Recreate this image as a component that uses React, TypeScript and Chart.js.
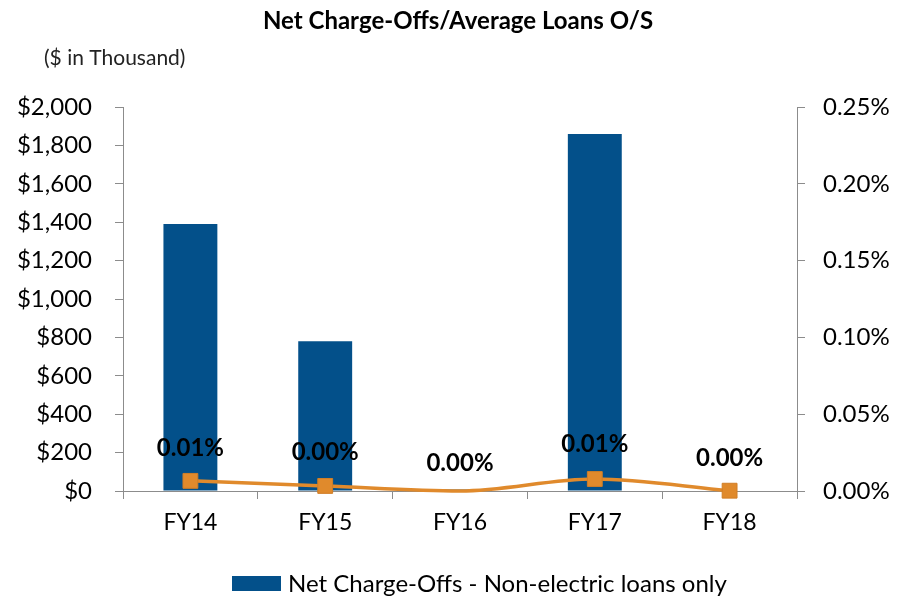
import React, { useEffect, useRef } from "react";
import { Chart, registerables } from "chart.js";

Chart.register(...registerables);

const categories = ["FY14", "FY15", "FY16", "FY17", "FY18"];
const netChargeOffs = [1390, 780, 8, 1860, 0];
const ncoRatio = [0.0066, 0.0033, 0.0, 0.0078, 0.0002];
const ratioLabels = ["0.01%", "0.00%", "0.00%", "0.01%", "0.00%"];
const labelOffsets = [33, 34, 28, 35, 32];
const markerSizes = [10.5, 10.5, 0, 10.5, 10.5];

const TITLE = "Net Charge-Offs/Average Loans O/S";
const SUBTITLE = "($ in Thousand)";
const LEGEND = "Net Charge-Offs - Non-electric loans only";
const FONT = "Lato, 'Open Sans', sans-serif";
const BLUE = "#03508A";
const ORANGE = "#E08A2C";
const AXIS = "#8C8C8C";

const textPlugin = {
  id: "textPlugin",
  afterDraw(chart: any) {
    const ctx = chart.ctx;
    ctx.save();
    ctx.fillStyle = "#000";
    ctx.textBaseline = "middle";
    ctx.textAlign = "center";
    ctx.font = `bold 24px ${FONT}`;
    ctx.fillText(TITLE, 458, 21);
    ctx.textAlign = "left";
    ctx.font = `21px ${FONT}`;
    ctx.fillStyle = "#222";
    ctx.fillText(SUBTITLE, 44, 58);

    // line labels
    const meta = chart.getDatasetMeta(1);
    ctx.font = `bold 24px ${FONT}`;
    ctx.fillStyle = "#000";
    ctx.textAlign = "center";
    meta.data.forEach((pt: any, i: number) => {
      ctx.fillText(ratioLabels[i], pt.x, pt.y - labelOffsets[i]);
    });

    // legend
    ctx.fillStyle = BLUE;
    ctx.fillRect(232, 576, 49, 15);
    ctx.fillStyle = "#000";
    ctx.textAlign = "left";
    ctx.font = `24px ${FONT}`;
    ctx.fillText(LEGEND, 288, 584);
    ctx.restore();
  },
};

export default function App() {
  const ref = useRef<HTMLCanvasElement>(null);
  useEffect(() => {
    const chart = new Chart(ref.current!, {
      type: "bar",
      data: {
        labels: categories,
        datasets: [
          {
            type: "bar",
            label: LEGEND,
            data: netChargeOffs,
            backgroundColor: BLUE,
            barPercentage: 1,
            categoryPercentage: 0.4,
            yAxisID: "y",
            order: 2,
          },
          {
            type: "line",
            label: "NCO ratio",
            data: ncoRatio,
            borderColor: ORANGE,
            backgroundColor: ORANGE,
            borderWidth: 3.5,
            cubicInterpolationMode: "monotone",
            clip: false,
            pointStyle: "rect",
            pointRadius: markerSizes,
            pointBackgroundColor: ORANGE,
            pointBorderColor: "#D17E26",
            pointBorderWidth: 1,
            yAxisID: "y1",
            order: 1,
          } as any,
        ],
      },
      options: {
        responsive: false,
        animation: false,
        layout: { padding: { top: 107, left: 0, right: 0, bottom: 0 } },
        plugins: {
          legend: { display: false },
          title: { display: false },
          tooltip: { enabled: false },
        },
        scales: {
          x: {
            offset: true,
            grid: {
              offset: true,
              drawOnChartArea: false,
              drawTicks: true,
              tickLength: 8,
              color: AXIS,
            },
            border: { display: true, color: AXIS },
            ticks: {
              color: "#000",
              font: { family: FONT, size: 23 },
              padding: 10,
            },
            afterFit(scale: any) {
              scale.height = 109;
            },
          },
          y: {
            position: "left",
            min: 0,
            max: 2000,
            ticks: {
              stepSize: 200,
              color: "#000",
              font: { family: FONT, size: 24 },
              padding: 23,
              callback: (v: any) => "$" + Number(v).toLocaleString("en-US"),
            },
            grid: {
              drawOnChartArea: false,
              drawTicks: true,
              tickLength: 8,
              color: AXIS,
            },
            border: { display: true, color: AXIS },
            afterFit(scale: any) {
              scale.width = 123;
            },
          },
          y1: {
            position: "right",
            min: 0,
            max: 0.25,
            ticks: {
              stepSize: 0.05,
              color: "#000",
              font: { family: FONT, size: 24 },
              padding: 18,
              callback: (v: any) => Number(v).toFixed(2) + "%",
            },
            grid: {
              drawOnChartArea: false,
              drawTicks: true,
              tickLength: 8,
              color: AXIS,
            },
            border: { display: true, color: AXIS },
            afterFit(scale: any) {
              scale.width = 109;
            },
          },
        },
      },
      plugins: [textPlugin],
    });
    return () => chart.destroy();
  }, []);
  return (
    <div style={{ position: "absolute", left: 0, top: 0, width: 906, height: 600, background: "#fff" }}>
      <canvas ref={ref} width={906} height={600} style={{ width: 906, height: 600 }} />
    </div>
  );
}
